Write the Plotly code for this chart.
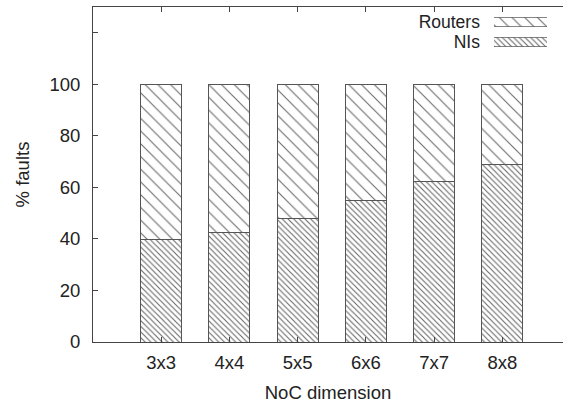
import plotly.graph_objects as go

categories = ["3x3", "4x4", "5x5", "6x6", "7x7", "8x8"]
nis = [39.6, 42.6, 48.0, 55.1, 62.2, 68.7]
routers = [60.4, 57.4, 52.0, 44.9, 37.8, 31.3]
series_names = ["Routers", "NIs"]
y_tickvals = [0, 20, 40, 60, 80, 100, 120]
y_ticktext = ["0", "20", "40", "60", "80", "100", ""]

FONT = "Liberation Sans, Arial, sans-serif"
TXT = "#222222"
LINE = "#444444"
FS = 18.5
LFS = 17.5

styles = {
    "Routers": dict(shape="\\", size=9, solidity=0.12),
    "NIs": dict(shape="\\", size=4, solidity=0.28),
}

def pattern(name):
    s = styles[name]
    return dict(shape=s["shape"], size=s["size"], solidity=s["solidity"],
                fgcolor="#6a6a6a", bgcolor="white", fillmode="replace")

x_idx = list(range(len(categories)))

fig = go.Figure()
fig.add_trace(go.Bar(x=x_idx, y=nis, name="NIs", width=0.6,
                     marker=dict(color="white", line=dict(color="#555555", width=1),
                                 pattern=pattern("NIs")),
                     showlegend=False))
fig.add_trace(go.Bar(x=x_idx, y=routers, name="Routers", width=0.6,
                     marker=dict(color="white", line=dict(color="#555555", width=1),
                                 pattern=pattern("Routers")),
                     showlegend=False))

# legend swatches drawn as bars in a small inset axis
for nm in series_names:
    fig.add_trace(go.Bar(x=[1], y=[nm], orientation="h", width=0.46,
                         xaxis="x2", yaxis="y2", showlegend=False,
                         marker=dict(color="white", line=dict(color="#666666", width=0.8),
                                     pattern=pattern(nm))))

fig.update_layout(
    width=563, height=405,
    margin=dict(l=93, r=0, t=7, b=63),
    barmode="stack",
    paper_bgcolor="white", plot_bgcolor="white",
    font=dict(family=FONT, size=FS, color=TXT),
    xaxis=dict(range=[-1, 5.89], tickvals=x_idx, ticktext=categories,
               ticks="inside", ticklen=5, tickcolor=LINE,
               showline=True, linecolor=LINE, linewidth=1, mirror="ticks",
               showgrid=False, zeroline=False, ticklabelstandoff=4,
               title=dict(text="NoC dimension", standoff=13,
                          font=dict(family=FONT, size=FS, color=TXT)),
               tickfont=dict(family=FONT, size=FS, color=TXT)),
    yaxis=dict(range=[0, 130], tickvals=y_tickvals, ticktext=y_ticktext,
               ticks="inside", ticklen=5, tickcolor=LINE,
               showline=True, linecolor=LINE, linewidth=1, mirror=False,
               showgrid=False, zeroline=False, ticklabelstandoff=8,
               title=dict(text="% faults", standoff=14,
                          font=dict(family=FONT, size=FS, color=TXT)),
               tickfont=dict(family=FONT, size=FS, color=TXT)),
    xaxis2=dict(domain=[0.853, 0.966], range=[0, 1], anchor="y2",
                visible=False, fixedrange=True),
    yaxis2=dict(domain=[0.866, 0.985], anchor="x2",
                categoryorder="array", categoryarray=["NIs", "Routers"],
                tickmode="array", tickvals=series_names, ticktext=series_names,
                showline=False, showgrid=False, zeroline=False, ticks="",
                ticklabelstandoff=13, fixedrange=True,
                tickfont=dict(family=FONT, size=LFS, color=TXT)),
)

fig.write_html("out.html", config={"displayModeBar": False},
               post_script="document.body.style.margin='0';document.body.style.padding='0';")
